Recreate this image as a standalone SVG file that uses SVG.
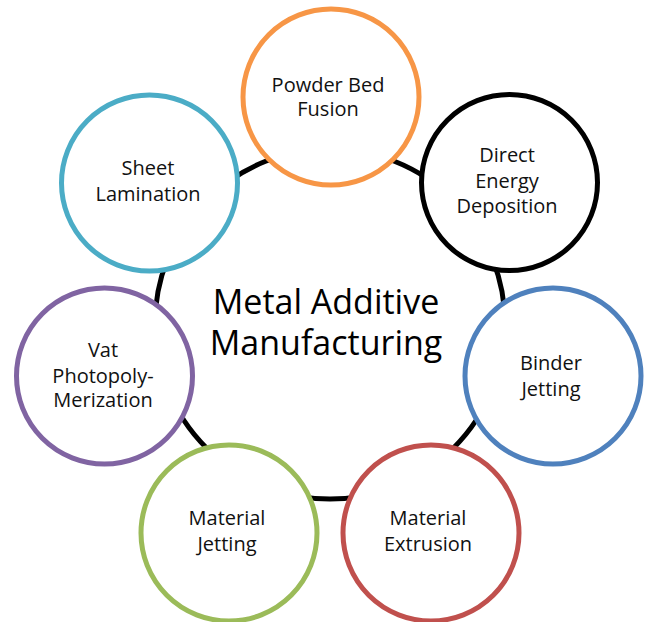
<svg xmlns="http://www.w3.org/2000/svg" width="647" height="622" viewBox="0 0 647 622">
<style>
.node{fill:#fff;stroke-width:5}
.lbl{font-family:"Open Sans","Noto Sans",sans-serif;font-size:20px;fill:#111;text-anchor:middle}
.title{font-family:"Open Sans","Noto Sans",sans-serif;font-size:34px;fill:#000;text-anchor:middle}
</style>
<rect width="647" height="622" fill="#fff"/>
<g id="connectors">
<circle cx="330" cy="324" r="175" fill="none" stroke="#000" stroke-width="5"/>
</g>
<g id="center">
<text class="title" x="326" y="314">Metal Additive</text>
<text class="title" x="326" y="355">Manufacturing</text>
</g>
<g id="powder-bed-fusion">
<circle class="node" cx="331" cy="97" r="88" stroke="#F79646"/>
<text class="lbl" x="328" y="92">Powder Bed</text>
<text class="lbl" x="328" y="116">Fusion</text>
</g>
<g id="direct-energy-deposition">
<circle class="node" cx="509.5" cy="182.5" r="88" stroke="#000"/>
<text class="lbl" x="507" y="162">Direct</text>
<text class="lbl" x="507" y="188">Energy</text>
<text class="lbl" x="507" y="213">Deposition</text>
</g>
<g id="binder-jetting">
<circle class="node" cx="553" cy="376" r="88" stroke="#4F81BD"/>
<text class="lbl" x="551" y="370">Binder</text>
<text class="lbl" x="551" y="396">Jetting</text>
</g>
<g id="material-extrusion">
<circle class="node" cx="431" cy="533" r="88" stroke="#C0504D"/>
<text class="lbl" x="428" y="525">Material</text>
<text class="lbl" x="428" y="551">Extrusion</text>
</g>
<g id="material-jetting">
<circle class="node" cx="229" cy="533" r="88" stroke="#9BBB59"/>
<text class="lbl" x="227" y="525">Material</text>
<text class="lbl" x="227" y="551">Jetting</text>
</g>
<g id="vat-photopolymerization">
<circle class="node" cx="104.5" cy="376" r="88" stroke="#8064A2"/>
<text class="lbl" x="103" y="357">Vat</text>
<text class="lbl" x="103" y="383">Photopoly-</text>
<text class="lbl" x="103" y="407">Merization</text>
</g>
<g id="sheet-lamination">
<circle class="node" cx="149.5" cy="183" r="88" stroke="#4BACC6"/>
<text class="lbl" x="148" y="175">Sheet</text>
<text class="lbl" x="148" y="201">Lamination</text>
</g>
</svg>
